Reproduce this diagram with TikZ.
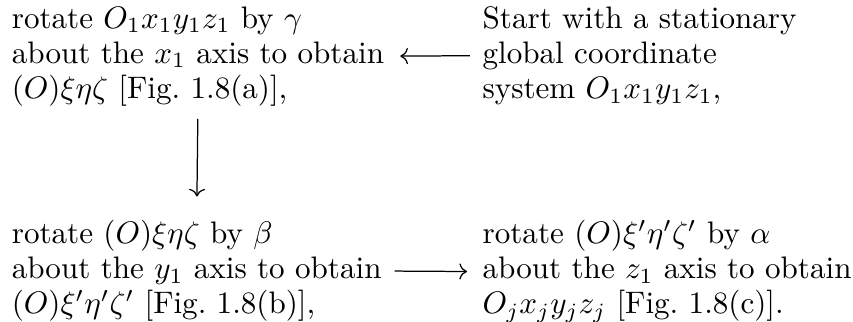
\documentclass[tikz,border=0pt]{standalone}
\usepackage{tikz}
\usetikzlibrary{arrows.meta,positioning}

\begin{document}
\begin{tikzpicture}[x=1pt,y=1pt,
    blk/.style={align=left,inner sep=0pt,anchor=north west,font=\fontsize{10}{11.25}\selectfont},
    link/.style={-{To},line width=0.4pt}]
  \useasboundingbox (0,0) rectangle (274.3,-103.5);
  % the four steps
  \node[blk] (gamma) at (3.6,-1.9) {rotate $O_1x_1y_1z_1$ by $\gamma$\\
    about the $x_1$ axis to obtain\\
    $(O)\xi\eta\zeta$ [Fig.~1.8(a)],};
  \node[blk] (start) at (155,-1.9) {Start with a stationary\\
    global coordinate\\
    system $O_1x_1y_1z_1$,};
  \node[blk] (beta) at (3.6,-70.7) {rotate $(O)\xi\eta\zeta$ by $\beta$\\
    about the $y_1$ axis to obtain\\
    $(O)\xi'\eta'\zeta'$ [Fig.~1.8(b)],};
  \node[blk] (alpha) at (155,-70.7) {rotate $(O)\xi'\eta'\zeta'$ by $\alpha$\\
    about the $z_1$ axis to obtain\\
    $O_jx_jy_jz_j$ [Fig.~1.8(c)].};
  % arrows between them
  \draw[link,shorten <=3.9pt,shorten >=5pt] (start.west) -- (gamma.east);
  \draw[link,shorten <=4pt,shorten >=7.5pt] (gamma.south) -- (beta.north);
  \draw[link,shorten <=4pt,shorten >=4.8pt] (beta.east) -- (alpha.west);
\end{tikzpicture}
\end{document}
